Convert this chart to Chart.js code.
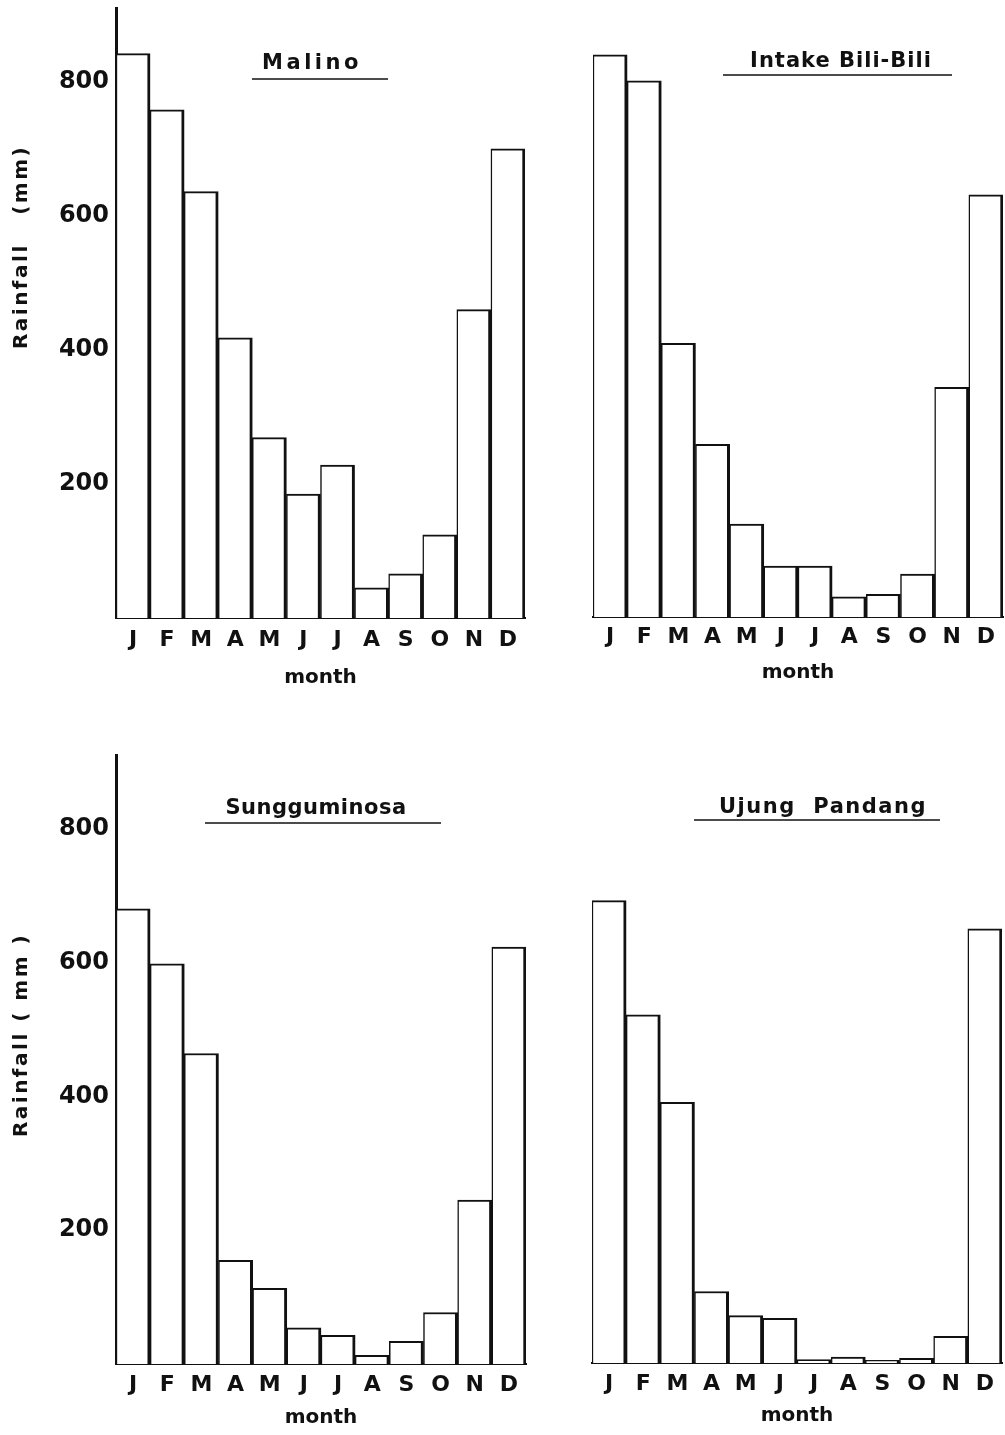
<!DOCTYPE html>
<html>
<head>
<meta charset="utf-8">
<script src="https://cdn.jsdelivr.net/npm/chart.js@4.4.1/dist/chart.umd.min.js"></script>
<style>
  html, body { margin: 0; padding: 0; background: #fff; }
  body { position: relative; width: 1005px; height: 1435px; overflow: hidden; }
  canvas { position: absolute; }
</style>
</head>
<body>
<canvas id="malino" width="560" height="718" style="left:0;top:0"></canvas>
<canvas id="bili" width="445" height="718" style="left:560px;top:0"></canvas>
<canvas id="sungguminosa" width="560" height="717" style="left:0;top:718px"></canvas>
<canvas id="ujung" width="445" height="717" style="left:560px;top:718px"></canvas>
<script>
const MONTHS = ["J", "F", "M", "A", "M", "J", "J", "A", "S", "O", "N", "D"]

// monthly rainfall (mm)
const MALINO = [842, 758, 636, 418, 269, 185, 228, 45, 66, 124, 460, 700]
const INTAKE_BILI_BILI = [840, 801, 409, 258, 139, 76, 76, 30, 34, 64, 343, 631]
const SUNGGUMINOSA = [680, 598, 464, 155, 113, 54, 43, 13, 34, 77, 245, 623]
const UJUNG_PANDANG = [692, 521, 390, 107, 71, 67, 5, 9, 4, 7, 40, 650]

const Y_TICKS = [200, 400, 600, 800]
const Y_MAX = 910

const INK = "#111"
const FONT = "'DejaVu Sans', 'Liberation Sans', sans-serif"

Chart.defaults.font.family = FONT
Chart.defaults.color = INK

// station name with underline, and the rotated y label
const panelText = {
  id: "panelText",
  afterDraw: (chart, args, opts) => {
    const { ctx } = chart

    ctx.save()
    ctx.fillStyle = INK
    ctx.strokeStyle = INK
    ctx.textAlign = "center"
    ctx.textBaseline = "middle"
    ctx.font = `bold 21px ${FONT}`
    ctx.letterSpacing = `${opts.spacing}px`
    ctx.fillText(opts.name, opts.nameX, opts.nameY)

    ctx.lineWidth = 1.5
    ctx.beginPath()
    ctx.moveTo(opts.lineFrom, opts.lineY)
    ctx.lineTo(opts.lineTo, opts.lineY)
    ctx.stroke()

    if (opts.yLabel) {
      ctx.font = `bold 20px ${FONT}`
      ctx.letterSpacing = "2.5px"
      ctx.translate(22, opts.yLabelY)
      ctx.rotate(-Math.PI / 2)
      ctx.fillText(opts.yLabel, 0, 0)
    }

    ctx.restore()
  },
}

const makePanel = (id, values, cfg) => {
  const showY = !!cfg.yLabel

  return new Chart(document.getElementById(id), {
    type: "bar",
    data: {
      labels: MONTHS,
      datasets: [
        {
          data: values,
          backgroundColor: "#fff",
          borderColor: INK,
          borderWidth: { left: 1.5, right: 3, top: 2, bottom: 0 },
          barPercentage: 1.0,
          categoryPercentage: 1.0,
        },
      ],
    },
    options: {
      animation: false,
      responsive: false,
      devicePixelRatio: 1,
      layout: { padding: cfg.padding },
      plugins: {
        legend: { display: false },
        tooltip: { enabled: false },
        panelText: cfg.text,
      },
      scales: {
        x: {
          z: 1,
          grid: { display: false, drawTicks: false },
          border: { display: true, color: INK, width: 2 },
          ticks: {
            autoSkip: false,
            maxRotation: 0,
            padding: cfg.tickPad,
            color: INK,
            font: { size: 22, weight: "bold" },
          },
          title: {
            display: true,
            text: "month",
            color: INK,
            font: { size: 20, weight: "bold" },
            padding: { top: 0, bottom: cfg.titlePad },
          },
          afterFit: (scale) => {
            scale.height = cfg.xHeight
            scale.paddingLeft = 0
            scale.paddingRight = 0
          },
        },
        y: {
          z: 1,
          display: showY,
          min: 0,
          max: Y_MAX,
          grid: { display: false, drawTicks: false },
          border: { display: true, color: INK, width: 3 },
          ticks: {
            padding: 7,
            color: INK,
            font: { size: 24, weight: "bold" },
          },
          afterBuildTicks: (scale) => {
            scale.ticks = Y_TICKS.map((v) => ({ value: v }))
          },
          afterFit: (scale) => {
            scale.width = showY ? 116 : 0
            scale.paddingTop = 0
            scale.paddingBottom = 0
          },
        },
      },
    },
    plugins: [panelText],
  })
}

makePanel("malino", MALINO, {
  padding: { top: 8, right: 35, left: 0, bottom: 0 },
  xHeight: 100,
  tickPad: 9,
  titlePad: 28,
  yLabel: true,
  text: {
    name: "Malino", spacing: 3.5, nameX: 312, nameY: 64,
    lineFrom: 252, lineTo: 388, lineY: 79,
    yLabel: "Rainfall   (mm)", yLabelY: 247,
  },
})

makePanel("bili", INTAKE_BILI_BILI, {
  padding: { top: 8, right: 2, left: 33, bottom: 0 },
  xHeight: 101,
  tickPad: 7,
  titlePad: 33,
  text: {
    name: "Intake Bili-Bili", spacing: 1, nameX: 281, nameY: 62,
    lineFrom: 163, lineTo: 392, lineY: 75,
  },
})

makePanel("sungguminosa", SUNGGUMINOSA, {
  padding: { top: 37, right: 34, left: 0, bottom: 0 },
  xHeight: 71,
  tickPad: 8,
  titlePad: 5,
  yLabel: true,
  text: {
    name: "Sungguminosa", spacing: 0.5, nameX: 316, nameY: 91,
    lineFrom: 205, lineTo: 441, lineY: 105,
    yLabel: "Rainfall ( mm )", yLabelY: 317,
  },
})

makePanel("ujung", UJUNG_PANDANG, {
  padding: { top: 37, right: 3, left: 32, bottom: 0 },
  xHeight: 72,
  tickPad: 8,
  titlePad: 7,
  text: {
    name: "Ujung  Pandang", spacing: 1.5, nameX: 263, nameY: 90,
    lineFrom: 134, lineTo: 380, lineY: 102,
  },
})
</script>
</body>
</html>
